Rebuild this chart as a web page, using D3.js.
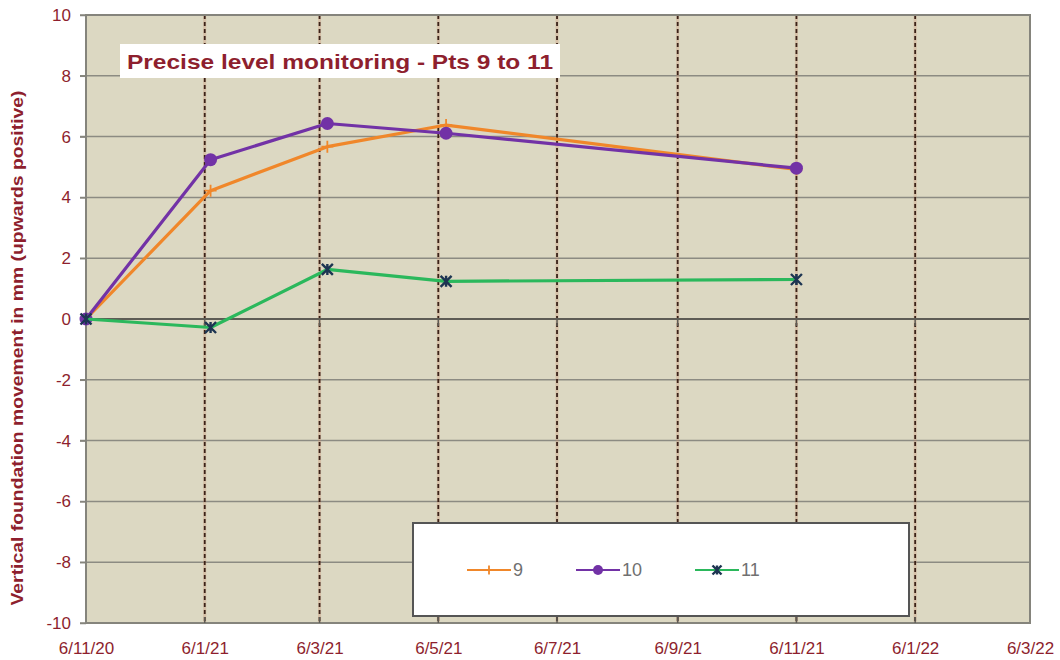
<!DOCTYPE html>
<html>
<head>
<meta charset="utf-8">
<script src="https://cdn.jsdelivr.net/npm/d3@7"></script>
<style>
  body { margin: 0; background: #fff; }
  svg { display: block; font-family: "Liberation Sans", Arial, sans-serif; }
</style>
</head>
<body>
<svg id="chart" width="1060" height="660"></svg>
<script>
// survey dates (d/m/y) and readings per point, in mm
var surveyDates = ["6/11/20", "9/1/21", "10/3/21", "10/5/21", "6/11/21"];
var pt9 = [0, 4.22, 5.67, 6.38, 4.92];
var pt10 = [0, 5.24, 6.43, 6.11, 4.96];
var pt11 = [0, -0.28, 1.63, 1.24, 1.3];
var seriesNames = ["9", "10", "11"];
var tickLabels = ["6/11/20", "6/1/21", "6/3/21", "6/5/21", "6/7/21", "6/9/21", "6/11/21", "6/1/22", "6/3/22"];
var yTicks = [-10, -8, -6, -4, -2, 0, 2, 4, 6, 8, 10];

var parse = d3.utcParse("%d/%m/%y");
var colors = {"9": "#f0872a", "10": "#7232a6", "11": "#2bb85c"};
var red = "#8e1f2e";

var margin = {top: 15, right: 30, bottom: 36, left: 86},
    width = 1060 - margin.left - margin.right,
    height = 660 - margin.top - margin.bottom - 1;

var svg = d3.select("#chart");
var g = svg.append("g")
    .attr("transform", "translate(" + margin.left + "," + margin.top + ")");

var ticks = tickLabels.map(parse);
var x = d3.scaleUtc()
    .domain([ticks[0], ticks[ticks.length - 1]])
    .range([0, width]);
var y = d3.scaleLinear().domain([-10, 10]).range([height, 0]);

// plot background
g.append("rect")
    .attr("width", width).attr("height", height)
    .attr("fill", "#dcd8c2");

// horizontal grid
g.selectAll(".hgrid").data(yTicks.filter(function(d) { return d != 0; }))
  .enter().append("line")
    .attr("x1", -6).attr("x2", width)
    .attr("y1", function(d) { return y(d); })
    .attr("y2", function(d) { return y(d); })
    .attr("stroke", "#8c8b82").attr("stroke-width", 1.5);

// vertical dashed grid
g.selectAll(".vgrid").data(ticks.slice(1, -1))
  .enter().append("line")
    .attr("x1", function(d) { return x(d); })
    .attr("x2", function(d) { return x(d); })
    .attr("y1", 0).attr("y2", height)
    .attr("stroke", "#c98a6a").attr("stroke-width", 3).attr("opacity", 0.3);
g.selectAll(".vgrid2").data(ticks.slice(1, -1))
  .enter().append("line")
    .attr("x1", function(d) { return x(d); })
    .attr("x2", function(d) { return x(d); })
    .attr("y1", 0).attr("y2", height)
    .attr("stroke", "#3a2218").attr("stroke-width", 1.8)
    .attr("stroke-dasharray", "4,3");

// zero axis with ticks hanging below
g.append("line")
    .attr("x1", 0).attr("x2", width)
    .attr("y1", y(0)).attr("y2", y(0))
    .attr("stroke", "#5e5c55").attr("stroke-width", 1.8);
g.selectAll(".ztick").data(ticks.slice(1, -1))
  .enter().append("line")
    .attr("x1", function(d) { return x(d); })
    .attr("x2", function(d) { return x(d); })
    .attr("y1", y(0)).attr("y2", y(0) + 7)
    .attr("stroke", "#5e5c55").attr("stroke-width", 1.5);

// border
g.append("rect")
    .attr("width", width).attr("height", height)
    .attr("fill", "none").attr("stroke", "#85847c").attr("stroke-width", 2);

// y axis
var yAxis = g.append("g").call(d3.axisLeft(y).tickValues(yTicks).tickSize(6).tickPadding(9)
    .tickFormat(function(d) { return String(d); }));
yAxis.select(".domain").remove();
yAxis.selectAll("line").attr("stroke", "#85847c").attr("stroke-width", 1.5);
yAxis.selectAll("text").attr("fill", red).attr("font-size", 17).attr("font-family", "Liberation Sans, Arial, sans-serif");

// x axis labels
var xAxis = g.append("g").attr("transform", "translate(0," + height + ")")
    .call(d3.axisBottom(x).tickValues(ticks).tickFormat(function(d, i) { return tickLabels[i]; }).tickSize(0).tickPadding(19));
xAxis.select(".domain").remove();
xAxis.selectAll("text").attr("fill", red).attr("font-size", 17).attr("font-family", "Liberation Sans, Arial, sans-serif");
g.selectAll(".btick").data(ticks.slice(1, -1))
  .enter().append("line")
    .attr("x1", function(d) { return x(d); })
    .attr("x2", function(d) { return x(d); })
    .attr("y1", height).attr("y2", height - 6)
    .attr("stroke", "#5e5c55").attr("stroke-width", 1.5);

// y title
svg.append("text")
    .attr("transform", "translate(23," + 348 + ") rotate(-90)")
    .attr("text-anchor", "middle")
    .attr("fill", red).attr("font-weight", "bold").attr("font-size", 16)
    .attr("textLength", 515).attr("lengthAdjust", "spacingAndGlyphs")
    .text("Vertical foundation movement in mm (upwards positive)");

// chart title box
svg.append("rect")
    .attr("x", 120).attr("y", 44).attr("width", 440).attr("height", 34)
    .attr("fill", "#fff");
svg.append("text")
    .attr("x", 127).attr("y", 69)
    .attr("fill", red).attr("font-weight", "bold").attr("font-size", 21)
    .attr("textLength", 426).attr("lengthAdjust", "spacingAndGlyphs")
    .text("Precise level monitoring - Pts 9 to 11");

// series
var dates = surveyDates.map(parse);
var series = [
  {name: "9", values: pt9},
  {name: "10", values: pt10},
  {name: "11", values: pt11}
];
var line = d3.line()
    .x(function(d) { return x(d.date); })
    .y(function(d) { return y(d.v); });

function marker(sel, name, size) {
  if (name == "9") {
    sel.append("path")
      .attr("d", "M" + (-size) + ",0H" + size + "M0," + (-size) + "V" + size)
      .attr("stroke", colors[name]).attr("stroke-width", 1.8).attr("fill", "none");
  } else if (name == "10") {
    sel.append("circle").attr("r", size).attr("fill", colors[name]);
  } else {
    var s = size;
    sel.append("path")
      .attr("d", "M" + (-s) + "," + (-s) + "L" + s + "," + s + "M" + (-s) + "," + s + "L" + s + "," + (-s) + "M0," + (-s) + "V" + s)
      .attr("stroke", "#1d3552").attr("stroke-width", 2.4).attr("fill", "none");
  }
}

series.forEach(function(s) {
  var pts = s.values.map(function(v, i) { return {date: dates[i], v: v}; });
  g.append("path").datum(pts)
    .attr("d", line)
    .attr("fill", "none")
    .attr("stroke", colors[s.name]).attr("stroke-width", 3.2)
    .attr("stroke-linejoin", "round");
  pts.forEach(function(p) {
    var m = g.append("g").attr("transform", "translate(" + x(p.date) + "," + y(p.v) + ")");
    marker(m, s.name, s.name == "10" ? 6.5 : (s.name == "9" ? 6 : 5.5));
  });
});

// legend
var lg = svg.append("g");
lg.append("rect")
    .attr("x", 413).attr("y", 523).attr("width", 496).attr("height", 93)
    .attr("fill", "#fff").attr("stroke", "#555").attr("stroke-width", 2);
var legendX = [467, 576, 695];
seriesNames.forEach(function(n, i) {
  var it = lg.append("g").attr("transform", "translate(" + legendX[i] + ",570)");
  it.append("line").attr("x1", 0).attr("x2", 44).attr("y1", 0).attr("y2", 0)
    .attr("stroke", colors[n]).attr("stroke-width", 2);
  var m = it.append("g").attr("transform", "translate(22,0)");
  marker(m, n, n == "10" ? 5 : 4.5);
  it.append("text").attr("x", 46).attr("y", 6)
    .attr("fill", "#707070").attr("font-size", 18)
    .text(n);
});
</script>
</body>
</html>
